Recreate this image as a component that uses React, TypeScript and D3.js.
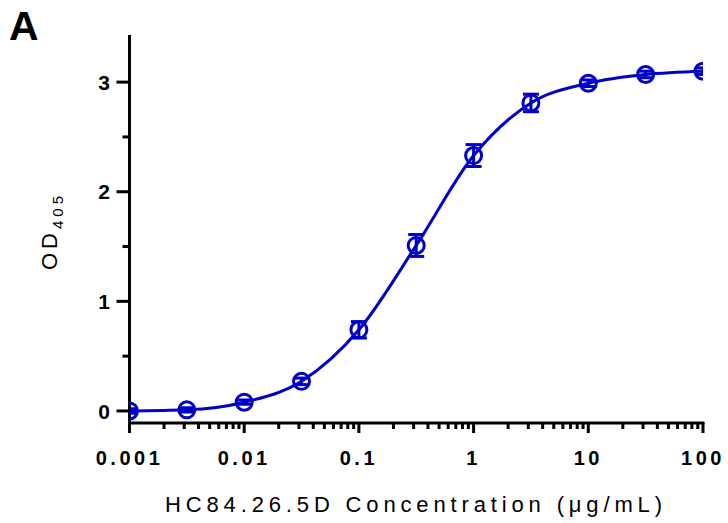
import React from 'react';
import * as d3 from 'd3';

// concentrations (ug/mL), mean OD405 and error
const concentrations = [0.001, 0.00316, 0.01, 0.0316, 0.1, 0.316, 1, 3.16, 10, 31.6, 100];
const odValues = [0.0, 0.01, 0.08, 0.27, 0.74, 1.51, 2.33, 2.81, 2.99, 3.07, 3.10];
const odErrors = [0.02, 0.02, 0.02, 0.03, 0.075, 0.1, 0.1, 0.08, 0.03, 0.03, 0.03];
const xTicks = [0.001, 0.01, 0.1, 1, 10, 100];
const xTickLabels = ['0.001', '0.01', '0.1', '1', '10', '100'];
const yTicks = [0, 1, 2, 3];
const yMinorTicks = [0.5, 1.5, 2.5];

const BLUE = '#0000c8';
const FONT = 'Arial, "Liberation Sans", sans-serif';

const App = () => {
    let left = 129.5, right = 703, top = 35, bottom = 423;
    let xScale = d3.scaleLog().domain([0.001, 100]).range([left, right]);
    let yScale = d3.scaleLinear().domain([-0.11, 3.43]).range([bottom, top]);

    let minorX: number[] = [];
    for (let e = -3; e < 2; e++) {
        for (let m = 2; m <= 9; m++) minorX.push(m * Math.pow(10, e));
    }

    let points = concentrations.map((c, i) => ({x: xScale(c), y: yScale(odValues[i])}));
    let l = d3.line<{x: number, y: number}>().x(d => d.x).y(d => d.y).curve(d3.curveMonotoneX);

    return (
        <svg width={728} height={523} style={{position: 'absolute', left: 0, top: 0, background: '#fff'}} fontFamily={FONT}>
            <defs>
                <clipPath id="plot">
                    <rect x={left} y={0} width={right - left} height={bottom}/>
                </clipPath>
            </defs>
            <text x={9} y={40} fontSize={41} fontWeight="bold">A</text>

            {/* y axis */}
            <g stroke="#000" strokeWidth={3}>
                <line x1={left} y1={top} x2={left} y2={bottom + 1.5}/>
                {yTicks.map((t, i) => <line key={i} x1={left - 13} y1={yScale(t)} x2={left} y2={yScale(t)}/>)}
                {yMinorTicks.map((t, i) => <line key={i} x1={left - 7} y1={yScale(t)} x2={left} y2={yScale(t)}/>)}
            </g>
            {yTicks.map((t, i) =>
                <text key={i} x={110} y={yScale(t)} dy="0.36em" textAnchor="end" fontSize={21} fontWeight="bold">{t}</text>
            )}
            <text transform="translate(57,270) rotate(-90)" fontSize={22}>
                <tspan letterSpacing={4}>OD</tspan>
                <tspan fontSize={15} dy={6} dx={0} letterSpacing={4}>405</tspan>
            </text>

            {/* x axis */}
            <g stroke="#000" strokeWidth={3}>
                <line x1={left - 1.5} y1={bottom} x2={right + 1.5} y2={bottom}/>
                {xTicks.map((t, i) => <line key={i} x1={xScale(t)} y1={bottom} x2={xScale(t)} y2={bottom + 10}/>)}
                {minorX.map((t, i) => <line key={i} x1={xScale(t)} y1={bottom} x2={xScale(t)} y2={bottom + 6}/>)}
            </g>
            {xTicks.map((t, i) =>
                <text key={i} x={xScale(t)} y={465} textAnchor="middle" fontSize={20} fontWeight="bold" letterSpacing={3.5}>{xTickLabels[i]}</text>
            )}
            <text x={165} y={512} fontSize={22} textLength={497} lengthAdjust="spacing">HC84.26.5D Concentration (μg/mL)</text>

            {/* data */}
            <g clipPath="url(#plot)" stroke={BLUE} strokeWidth={3} fill="none">
                <path d={l(points) || ''}/>
                {concentrations.map((c, i) => {
                    let x = xScale(c);
                    let y0 = yScale(odValues[i] - odErrors[i]);
                    let y1 = yScale(odValues[i] + odErrors[i]);
                    return <g key={i}>
                        <line x1={x} y1={y0} x2={x} y2={y1}/>
                        <line x1={x - 8} y1={y0} x2={x + 8} y2={y0}/>
                        <line x1={x - 8} y1={y1} x2={x + 8} y2={y1}/>
                        <circle cx={x} cy={yScale(odValues[i])} r={8}/>
                    </g>;
                })}
            </g>
        </svg>
    );
};

export default App;
